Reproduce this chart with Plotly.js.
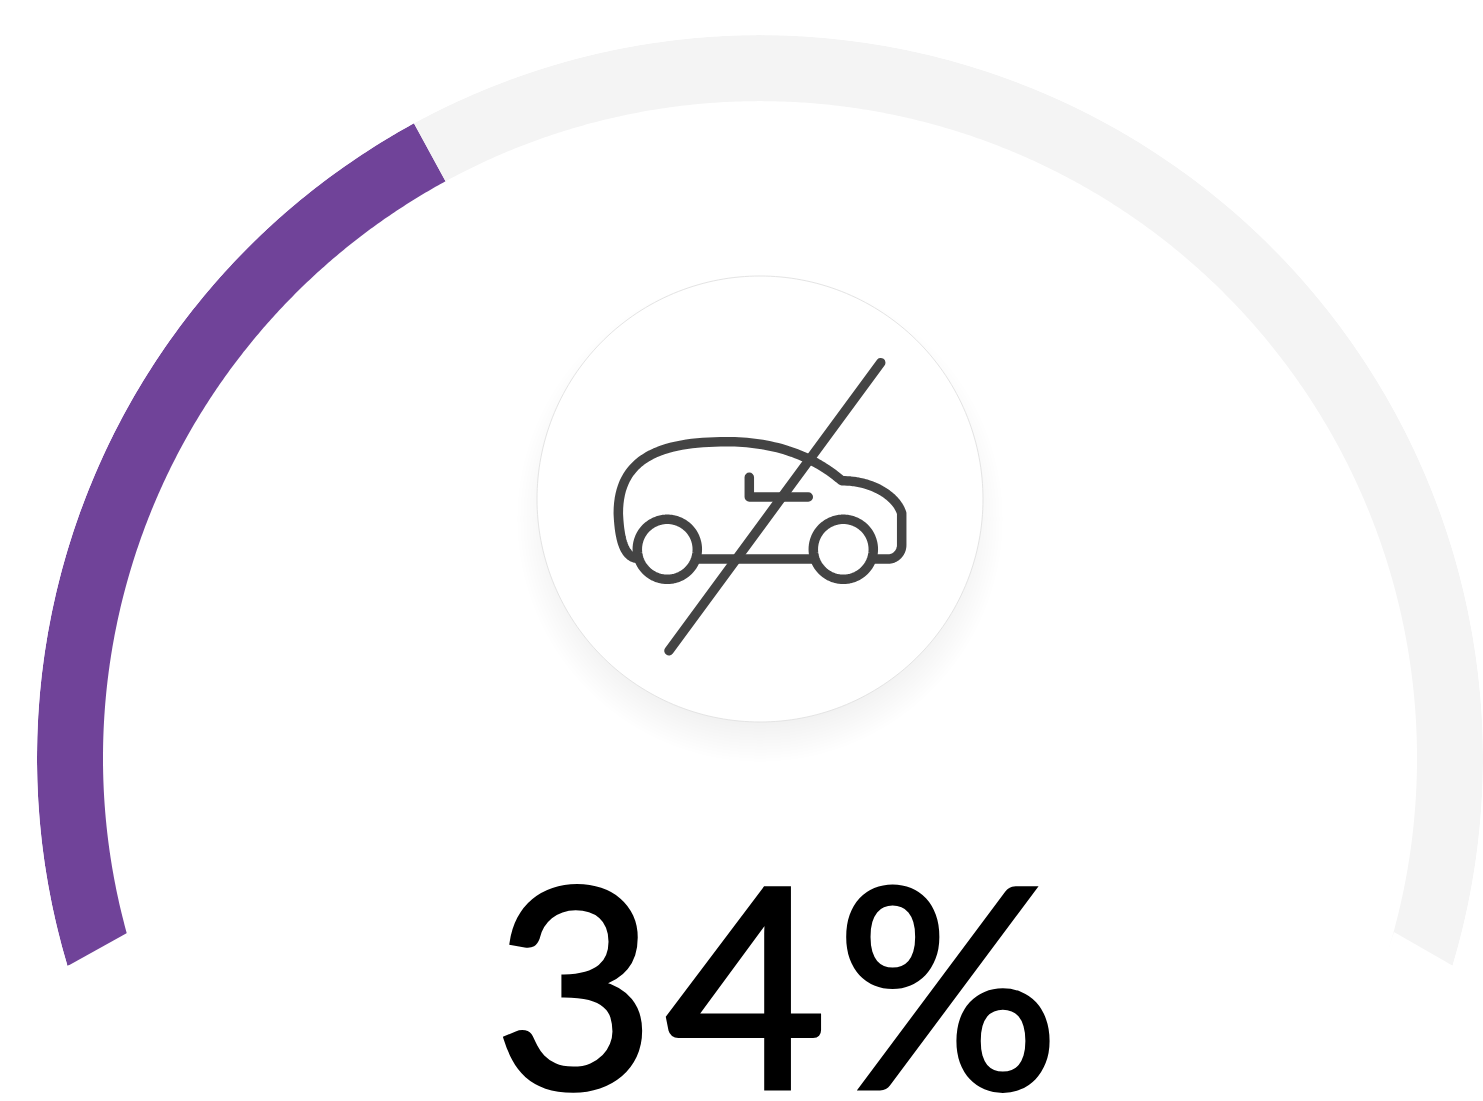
<!DOCTYPE html>
<html><head><meta charset="utf-8">
<script src="https://cdn.plot.ly/plotly-3.0.1.min.js"></script>
<style>html,body{margin:0;padding:0;background:#fff;overflow:hidden}#c{width:1483px;height:1101px}
svg path{shape-rendering:geometricPrecision !important}</style>
</head><body><div id="c"></div>
<script>
const segmentNames = ['Share', 'Remainder'];
const segmentSpans = [78.1, 135.3];
const segmentColors = ['#704399', '#f4f4f4'];
const arcStart = -106.7;
const ringInner = 657;
const ringOuter = 723;
const valueLabel = '34%';

const W = 1483, H = 1101;
const px = x => x / W, py = y => 1 - y / H;

// outline of an annular segment, traced in the polar subplot's own coordinates
function ringOutline(t0, span) {
  const n = Math.ceil(span * 4), r = [], theta = [];
  for (let i = 0; i <= n; i++) { r.push(ringOuter); theta.push(t0 + span * i / n); }
  for (let i = n; i >= 0; i--) { r.push(ringInner); theta.push(t0 + span * i / n); }
  r.push(ringOuter); theta.push(t0);
  return {r, theta};
}
let cum = arcStart;
const traces = segmentSpans.map((s, i) => {
  const o = ringOutline(cum, s); cum += s;
  return {type:'scatterpolar', mode:'lines', name:segmentNames[i], r:o.r, theta:o.theta, fill:'toself',
    fillcolor:segmentColors[i], line:{width:0, color:segmentColors[i], simplify:false}, hoverinfo:'skip', showlegend:false};
});

function flat(cmds) {
  let pts = [], cur = null, closed = false;
  cmds.forEach(c => {
    if (c[0] === 'C') {
      for (let k = 1; k <= 32; k++) {
        const t = k / 32, u = 1 - t;
        pts.push([u*u*u*cur[0] + 3*u*u*t*c[1] + 3*u*t*t*c[3] + t*t*t*c[5],
                  u*u*u*cur[1] + 3*u*u*t*c[2] + 3*u*t*t*c[4] + t*t*t*c[6]]);
      }
      cur = [c[5], c[6]];
    } else if (c[0] === 'Z') { closed = true; }
    else { cur = [c[1], c[2]]; pts.push(cur); }
  });
  return 'M ' + pts.map(p => px(p[0]) + ',' + py(p[1])).join(' L ') + (closed ? ' Z' : '');
}
function ringPath(cx, cy, r) {
  const n = Math.max(96, Math.round(r * 1.2)), cmds = [];
  for (let i = 0; i < n; i++) {
    const a = 2 * Math.PI * i / n;
    cmds.push([i ? 'L' : 'M', cx + r * Math.cos(a), cy + r * Math.sin(a)]);
  }
  cmds.push(['Z']);
  return flat(cmds);
}
const ink = '#444444', sw = 9.5;
const strokeShape = d => ({type:'path', xref:'paper', yref:'paper', path:d, line:{color:ink, width:sw}, fillcolor:'rgba(0,0,0,0)'});
const disc = (cx, cy, r, o) => Object.assign({type:'path', xref:'paper', yref:'paper', path:ringPath(cx, cy, r)}, o);

const shapes = [];
// arc end cuts
shapes.push({type:'path', xref:'paper', yref:'paper', fillcolor:'#fff', line:{width:0},
  path: flat([['M',64,968],['L',127,933],['L',134,952],['Z']]) });
shapes.push({type:'path', xref:'paper', yref:'paper', fillcolor:'#fff', line:{width:0},
  path: flat([['M',1455,967],['L',1394,932],['L',1387,952],['Z']]) });
// disc shadow
for (let r = 243; r >= 196; r -= 3) shapes.push(disc(760, 519, r, {fillcolor:'rgba(0,0,0,0.0055)', line:{width:0}}));
shapes.push(disc(760, 499, 223, {fillcolor:'#fff', line:{color:'#e4e4e4', width:1}}));
// icon
shapes.push(strokeShape(flat([['M',636.7,558.3],['C',623.3,556.7,619.3,536.7,618.3,513.3],
  ['C',618.3,458,660,441.7,726.7,441.7],['C',770,441.7,810,453.3,841.7,480.7],
  ['C',873.3,480.7,896.7,496.7,901.7,513.3],['L',901.7,545],
  ['C',901.7,553.3,895,559,888.3,559],['L',875,559]])));
shapes.push(strokeShape(flat([['M',698.3,559],['L',813.3,559]])));
shapes.push(strokeShape(flat([['M',749.3,477.3],['L',749.3,497],['L',808.3,497]])));
shapes.push(disc(667.3, 549.3, 30, {fillcolor:'rgba(0,0,0,0)', line:{color:ink, width:sw}}));
shapes.push(disc(843.3, 549.3, 30, {fillcolor:'rgba(0,0,0,0)', line:{color:ink, width:sw}}));
shapes.push(strokeShape(flat([['M',880.7,362.7],['L',669,650.7]])));

const layout = {
  width:W, height:H, margin:{l:0,r:0,t:0,b:0,pad:0}, paper_bgcolor:'#fff', showlegend:false,
  polar:{
    domain:{x:[37/W,1], y:[1-966/H,1-35/H]}, sector:[-16.7,196.7], bgcolor:'rgba(0,0,0,0)',
    radialaxis:{visible:false, range:[0,ringOuter], showgrid:false, showline:false, ticks:''},
    angularaxis:{visible:false, direction:'clockwise', rotation:90, showgrid:false, showline:false, ticks:''}
  },
  shapes,
  annotations:[{xref:'paper', yref:'paper', x:px(782), y:py(981), xanchor:'center', yanchor:'middle',
    text:valueLabel, showarrow:false, font:{family:'Lato, sans-serif', size:278, color:'#000'}}]
};
Plotly.newPlot('c', traces, layout, {displayModeBar:false, staticPlot:true}).then(() => {
  document.querySelectorAll('.shapelayer path').forEach(p => {p.style.strokeLinecap='round'; p.style.strokeLinejoin='round';});
  document.querySelectorAll('.annotation-text').forEach(t => {t.style.stroke='#000'; t.style.strokeWidth='5px'; t.style.strokeLinejoin='miter'; t.style.letterSpacing='10px';});
});
</script></body></html>
